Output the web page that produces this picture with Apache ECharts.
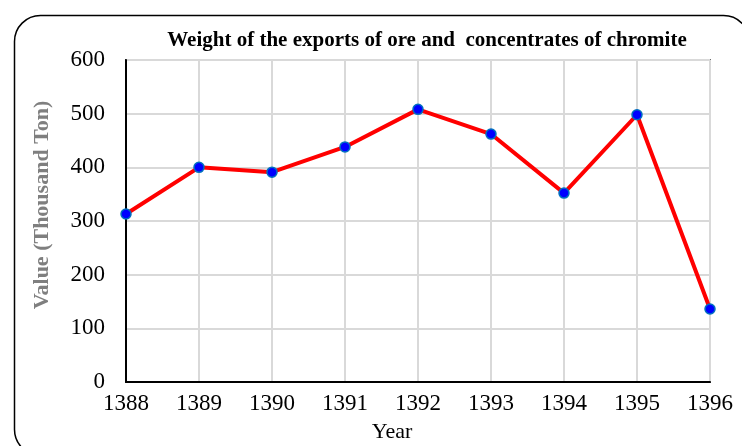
<!DOCTYPE html>
<html><head><meta charset="utf-8">
<script src="https://cdn.jsdelivr.net/npm/echarts@6/dist/echarts.min.js"></script>
<style>html,body{margin:0;padding:0;background:#fff}#c{width:742px;height:446px}</style>
</head><body><div id="c"></div>
<script>
const years = ['1388','1389','1390','1391','1392','1393','1394','1395','1396'];
const values = [313, 400, 391, 438, 508, 462, 352, 498, 136];
const yTicks = [0, 100, 200, 300, 400, 500, 600];
const titleText = 'Weight of the exports of ore and  concentrates of chromite';
const yName = 'Value (Thousand Ton)';
const xName = 'Year';

const chart = echarts.init(document.getElementById('c'), null, {renderer: 'canvas'});
chart.setOption({
  animation: false,
  backgroundColor: '#fff',
  graphic: [{
    type: 'rect', left: 12, top: 13, silent: true,
    shape: {width: 735, height: 440, r: 26},
    style: {fill: 'none', stroke: '#000', lineWidth: 1.5}
  }, {
    type: 'text', silent: true, x: 42, y: 205, rotation: Math.PI / 2,
    style: {text: yName, fontFamily: 'Liberation Serif', fontWeight: 'bold', fontSize: 22, fill: '#7f7f7f',
            align: 'center', verticalAlign: 'middle'}
  }, {
    type: 'text', silent: true, x: 392, y: 432,
    style: {text: xName, fontFamily: 'Liberation Serif', fontSize: 22, fill: '#000',
            align: 'center', verticalAlign: 'middle'}
  }],
  title: {
    text: titleText, left: 422, top: 25, textAlign: 'center',
    textStyle: {fontFamily: 'Liberation Serif', fontWeight: 'bold', fontSize: 21, color: '#000'}
  },
  grid: {left: 126, right: 32, top: 60, bottom: 64, show: true, borderColor: '#000', borderWidth: 1.5, backgroundColor: 'transparent'},
  xAxis: {
    type: 'category', data: years, boundaryGap: false,
    axisLine: {lineStyle: {color: '#000', width: 2}},
    axisTick: {show: false},
    axisLabel: {fontFamily: 'Liberation Serif', fontSize: 23, color: '#000', margin: 10},
    splitLine: {show: true, lineStyle: {color: '#d9d9d9', width: 2}}
  },
  yAxis: {
    type: 'value', min: yTicks[0], max: yTicks[yTicks.length-1], interval: 100,
    axisLine: {show: true, lineStyle: {color: '#000', width: 2}},
    axisTick: {show: false},
    axisLabel: {fontFamily: 'Liberation Serif', fontSize: 23, color: '#000', margin: 21},
    splitLine: {show: true, lineStyle: {color: '#d9d9d9', width: 2}}
  },
  series: [{
    type: 'line', data: values,
    lineStyle: {color: '#ff0000', width: 4},
    symbol: 'circle', symbolSize: 10,
    itemStyle: {color: '#0000ff', borderColor: '#0070c0', borderWidth: 1.5},
    z: 3
  }]
});
</script></body></html>
